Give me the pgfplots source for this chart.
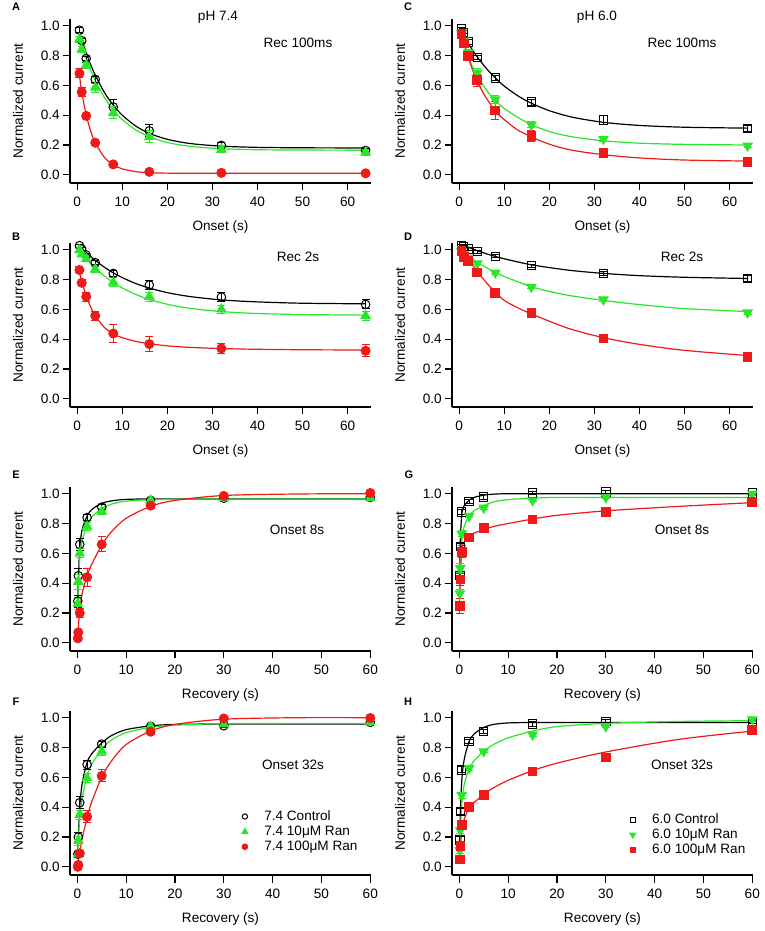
\documentclass[border=0pt]{standalone}
\usepackage{pgfplots}
\usepackage{pgfplotstable}
\pgfplotsset{compat=1.18}
\usepackage{fontspec}
\setmainfont{Liberation Sans}

\definecolor{cgreen}{RGB}{40,230,40}
\definecolor{cred}{RGB}{240,25,25}

% measured points: x, control, 10uM, 100uM (with errors)
\pgfplotstableread{
x c ec g eg r er
0.5 0.97 0.015 0.91 0.02 0.68 0.03
1 0.90 0.015 0.84 0.02 0.555 0.03
2 0.78 0.015 0.735 0.02 0.395 0.015
4 0.64 0.02 0.585 0.03 0.215 0.01
8 0.455 0.05 0.415 0.04 0.07 0.01
16 0.295 0.04 0.255 0.04 0.02 0.005
32 0.197 0.02 0.17 0.02 0.013 0.005
64 0.163 0.01 0.15 0.02 0.01 0.005
}\ptsA
\pgfplotstableread{
x c g r
0.5 0.960 0.920 0.670
1 0.909 0.870 0.555
2 0.818 0.779 0.402
3 0.738 0.701 0.293
4 0.669 0.632 0.215
6 0.554 0.520 0.118
8 0.467 0.435 0.066
10 0.400 0.370 0.040
13 0.327 0.301 0.021
16 0.278 0.255 0.014
20 0.238 0.217 0.011
25 0.210 0.191 0.010
32 0.192 0.175 0.010
40 0.184 0.168 0.010
50 0.181 0.166 0.010
64 0.180 0.165 0.010
}\fitA
\pgfplotstableread{
x c ec g eg r er
0.5 1.027 0.01 0.998 0.015 0.864 0.02
1 1.004 0.01 0.969 0.015 0.778 0.02
2 0.964 0.01 0.937 0.015 0.685 0.03
4 0.913 0.015 0.868 0.02 0.557 0.03
8 0.841 0.02 0.781 0.03 0.438 0.06
16 0.763 0.03 0.685 0.03 0.367 0.05
32 0.682 0.03 0.60 0.025 0.338 0.035
64 0.633 0.03 0.557 0.03 0.322 0.04
}\ptsB
\pgfplotstableread{
x c g r
0.5 1.027 0.995 0.850
1 1.011 0.975 0.790
2 0.981 0.939 0.690
3 0.954 0.906 0.615
4 0.928 0.876 0.557
6 0.883 0.824 0.480
8 0.845 0.780 0.435
10 0.813 0.743 0.410
13 0.773 0.700 0.385
16 0.743 0.666 0.370
20 0.712 0.634 0.355
25 0.686 0.607 0.345
32 0.663 0.585 0.337
40 0.650 0.572 0.332
50 0.641 0.565 0.329
64 0.637 0.561 0.327
}\fitB
\pgfplotstableread{
x c ec g eg r er
0.5 0.98 0.01 0.95 0.015 0.945 0.02
1 0.956 0.01 0.90 0.015 0.88 0.02
2 0.89 0.015 0.82 0.02 0.795 0.02
4 0.785 0.015 0.685 0.025 0.635 0.04
8 0.648 0.015 0.505 0.03 0.43 0.06
16 0.488 0.02 0.335 0.02 0.26 0.04
32 0.367 0.03 0.24 0.02 0.145 0.01
64 0.31 0.02 0.195 0.015 0.085 0.01
}\ptsC
\pgfplotstableread{
x c g r
0.5 0.962 0.930 0.950
1 0.934 0.880 0.890
2 0.882 0.790 0.790
3 0.834 0.720 0.700
4 0.791 0.665 0.625
6 0.714 0.570 0.515
8 0.650 0.500 0.430
10 0.595 0.445 0.370
13 0.530 0.385 0.300
16 0.480 0.337 0.255
20 0.430 0.290 0.205
25 0.387 0.255 0.165
32 0.352 0.228 0.135
40 0.331 0.212 0.113
50 0.319 0.204 0.099
64 0.313 0.200 0.092
}\fitC
\pgfplotstableread{
x c ec g eg r er
0.5 1.027 0.01 0.99 0.01 0.99 0.01
1 1.02 0.01 0.969 0.01 0.953 0.01
2 1.004 0.01 0.946 0.01 0.924 0.01
4 0.987 0.01 0.908 0.01 0.848 0.01
8 0.955 0.01 0.846 0.01 0.711 0.015
16 0.893 0.01 0.75 0.01 0.575 0.02
32 0.841 0.015 0.665 0.01 0.405 0.015
64 0.808 0.02 0.578 0.01 0.282 0.01
}\ptsD
\pgfplotstableread{
x c g r
0.5 1.035 0.985 0.990
1 1.029 0.975 0.975
2 1.017 0.955 0.940
3 1.005 0.935 0.895
4 0.994 0.915 0.855
6 0.973 0.880 0.780
8 0.955 0.848 0.715
10 0.939 0.820 0.660
13 0.918 0.785 0.610
16 0.899 0.752 0.570
20 0.880 0.720 0.520
25 0.860 0.690 0.465
32 0.841 0.660 0.410
40 0.826 0.632 0.365
50 0.815 0.605 0.325
64 0.807 0.585 0.290
}\fitD
\pgfplotstableread{
x c ec g eg r er
0.1 0.28 0.04 0.26 0.04 0.03 0.01
0.2 0.45 0.05 0.41 0.05 0.07 0.01
0.5 0.66 0.04 0.60 0.03 0.20 0.03
2 0.84 0.02 0.78 0.03 0.44 0.06
5 0.91 0.015 0.88 0.02 0.66 0.05
15 0.955 0.01 0.955 0.01 0.92 0.02
30 0.97 0.01 0.97 0.01 0.985 0.01
60 0.975 0.01 0.97 0.01 1.005 0.01
}\ptsE
\pgfplotstableread{
x c g r
0.1 0.30 0.28 0.05
0.2 0.42 0.38 0.10
0.5 0.64 0.56 0.22
1 0.76 0.68 0.33
2 0.85 0.79 0.45
3 0.895 0.845 0.53
5 0.935 0.90 0.655
7 0.952 0.93 0.745
10 0.962 0.95 0.835
15 0.965 0.96 0.915
20 0.965 0.963 0.955
30 0.965 0.965 0.988
45 0.965 0.965 0.998
60 0.965 0.965 1.0
}\fitE
\pgfplotstableread{
x c ec g eg r er
0.1 0.085 0.02 0.085 0.02 0.0 0.01
0.2 0.20 0.03 0.175 0.03 0.013 0.01
0.5 0.43 0.04 0.35 0.03 0.09 0.02
2 0.685 0.03 0.595 0.03 0.336 0.04
5 0.823 0.02 0.774 0.03 0.61 0.04
15 0.942 0.01 0.94 0.01 0.906 0.02
30 0.946 0.01 0.957 0.01 0.995 0.01
60 0.969 0.01 0.969 0.01 0.998 0.01
}\ptsF
\pgfplotstableread{
x c g r
0.1 0.12 0.10 0.02
0.2 0.20 0.17 0.04
0.5 0.40 0.33 0.10
1 0.56 0.46 0.19
2 0.70 0.61 0.33
3 0.76 0.69 0.44
5 0.83 0.79 0.60
7 0.88 0.85 0.71
10 0.92 0.90 0.82
15 0.945 0.935 0.91
20 0.955 0.95 0.955
30 0.958 0.96 0.99
45 0.958 0.962 1.0
60 0.958 0.962 1.0
}\fitF
\pgfplotstableread{
x c ec g eg r er
0.1 0.45 0.03 0.33 0.03 0.245 0.05
0.2 0.646 0.02 0.50 0.03 0.425 0.04
0.5 0.877 0.015 0.73 0.02 0.61 0.04
2 0.948 0.015 0.85 0.01 0.705 0.01
5 0.978 0.015 0.905 0.01 0.77 0.01
15 1.004 0.01 0.955 0.01 0.828 0.01
30 1.011 0.01 0.975 0.01 0.876 0.01
60 1.004 0.01 1.0 0.01 0.945 0.01
}\ptsG
\pgfplotstableread{
x c g r
0.1 0.50 0.35 0.30
0.2 0.68 0.50 0.45
0.5 0.86 0.69 0.62
1 0.92 0.78 0.68
2 0.955 0.85 0.715
3 0.975 0.885 0.735
5 0.99 0.92 0.76
7 0.997 0.945 0.78
10 1.0 0.96 0.80
15 1.0 0.97 0.83
20 1.0 0.975 0.855
30 1.0 0.975 0.885
45 1.0 0.975 0.915
60 1.0 0.975 0.94
}\fitG
\pgfplotstableread{
x c ec g eg r er
0.1 0.18 0.02 0.11 0.02 0.05 0.01
0.2 0.37 0.02 0.246 0.02 0.14 0.02
0.5 0.65 0.02 0.48 0.02 0.28 0.02
2 0.84 0.015 0.662 0.015 0.40 0.015
5 0.908 0.015 0.774 0.01 0.483 0.01
15 0.957 0.015 0.886 0.01 0.64 0.01
30 0.975 0.01 0.942 0.01 0.734 0.01
60 0.97 0.01 0.987 0.01 0.917 0.01
}\ptsH
\pgfplotstableread{
x c g r
0.1 0.22 0.12 0.06
0.2 0.35 0.22 0.12
0.5 0.58 0.42 0.24
1 0.72 0.55 0.32
2 0.84 0.655 0.395
3 0.89 0.71 0.43
5 0.935 0.775 0.485
7 0.955 0.82 0.53
10 0.965 0.865 0.58
15 0.968 0.91 0.645
20 0.968 0.94 0.695
30 0.968 0.962 0.77
45 0.968 0.975 0.855
60 0.968 0.98 0.91
}\fitH

\pgfplotsset{
  panel/.style={scale only axis, width=301pt, height=164pt, anchor=south west,
    axis x line*=bottom, axis y line*=left, clip=false,
    axis line style={line width=1.2pt},
    tick align=outside, major tick length=7.5pt,
    tick style={line width=1.2pt,black},
    ymin=-0.055, ymax=1.045, ytick={0,0.2,0.4,0.6,0.8,1.0},
    xtick={0,10,20,30,40,50,60},
    yticklabel style={/pgf/number format/fixed,/pgf/number format/fixed zerofill,
      /pgf/number format/precision=1, xshift=2pt},
    xticklabel style={yshift=-1.5pt},
    /pgf/number format/assume math mode=true,
    label style={font=\fontsize{13.1}{15.5}\selectfont},
    ylabel={Normalized current},
    every axis y label/.style={at={(axis description cs:-0.173,0.5)},rotate=90,anchor=center},
    every axis x label/.style={at={(axis description cs:0.5,-0.268)},anchor=center},
    legend style={draw=none, fill=none, inner sep=0pt, row sep=-0.5pt,
      /tikz/every odd column/.append style={column sep=14.5pt}},
    legend cell align=left,
  },
  onset/.style={panel, xmin=-1.6, xmax=65.2, xlabel={Onset (s)}},
  recov/.style={panel, xmin=-1.5, xmax=60.15, xlabel={Recovery (s)}},
  fit/.style={smooth, no markers, line width=1.2pt, forget plot},
  pts/.style={only marks, line width=1pt,
    legend image code/.code={\draw[##1, every mark/.append style={scale=0.62}]
      plot coordinates {(0pt,0pt)};},
    error bars/y dir=both, error bars/y explicit,
    error bars/error bar style={line width=1pt},
    error bars/error mark options={line width=1pt, mark size=4pt, rotate=90}},
  ctl74/.style={pts, black, mark=o, mark size=4.3pt},
  ran10a/.style={pts, cgreen, mark=triangle*, mark size=5.3pt},
  ran100a/.style={pts, cred, mark=*, mark size=4.5pt},
  ctl60/.style={pts, black, mark=square, mark size=4.2pt},
  ran10b/.style={pts, cgreen, mark=triangle*, mark size=5.3pt, mark options={rotate=180}},
  ran100b/.style={pts, cred, mark=square*, mark size=4.3pt},
}

\begin{document}
\fontsize{13.6}{16}\selectfont
\begin{tikzpicture}
% ---- A
\begin{axis}[onset, at={(70pt,748pt)}]
\addplot[fit,black] table[x=x,y=c]{\fitA};
\addplot[fit,cgreen] table[x=x,y=g]{\fitA};
\addplot[fit,cred] table[x=x,y=r]{\fitA};
\addplot[ctl74] table[x=x,y=c,y error=ec]{\ptsA};
\addplot[ran10a] table[x=x,y=g,y error=eg]{\ptsA};
\addplot[ran100a] table[x=x,y=r,y error=er]{\ptsA};
\end{axis}
% ---- C
\begin{axis}[onset, at={(452pt,748pt)}]
\addplot[fit,black] table[x=x,y=c]{\fitC};
\addplot[fit,cgreen] table[x=x,y=g]{\fitC};
\addplot[fit,cred] table[x=x,y=r]{\fitC};
\addplot[ctl60] table[x=x,y=c,y error=ec]{\ptsC};
\addplot[ran10b] table[x=x,y=g,y error=eg]{\ptsC};
\addplot[ran100b] table[x=x,y=r,y error=er]{\ptsC};
\end{axis}
% ---- B
\begin{axis}[onset, at={(70pt,524pt)}]
\addplot[fit,black] table[x=x,y=c]{\fitB};
\addplot[fit,cgreen] table[x=x,y=g]{\fitB};
\addplot[fit,cred] table[x=x,y=r]{\fitB};
\addplot[ctl74] table[x=x,y=c,y error=ec]{\ptsB};
\addplot[ran10a] table[x=x,y=g,y error=eg]{\ptsB};
\addplot[ran100a] table[x=x,y=r,y error=er]{\ptsB};
\end{axis}
% ---- D
\begin{axis}[onset, at={(452pt,524pt)}]
\addplot[fit,black] table[x=x,y=c]{\fitD};
\addplot[fit,cgreen] table[x=x,y=g]{\fitD};
\addplot[fit,cred] table[x=x,y=r]{\fitD};
\addplot[ctl60] table[x=x,y=c,y error=ec]{\ptsD};
\addplot[ran10b] table[x=x,y=g,y error=eg]{\ptsD};
\addplot[ran100b] table[x=x,y=r,y error=er]{\ptsD};
\end{axis}
% ---- E
\begin{axis}[recov, at={(70pt,280pt)}]
\addplot[fit,black] table[x=x,y=c]{\fitE};
\addplot[fit,cgreen] table[x=x,y=g]{\fitE};
\addplot[fit,cred] table[x=x,y=r]{\fitE};
\addplot[ctl74] table[x=x,y=c,y error=ec]{\ptsE};
\addplot[ran10a] table[x=x,y=g,y error=eg]{\ptsE};
\addplot[ran100a] table[x=x,y=r,y error=er]{\ptsE};
\end{axis}
% ---- G
\begin{axis}[recov, at={(452pt,280pt)}]
\addplot[fit,black] table[x=x,y=c]{\fitG};
\addplot[fit,cgreen] table[x=x,y=g]{\fitG};
\addplot[fit,cred] table[x=x,y=r]{\fitG};
\addplot[ctl60] table[x=x,y=c,y error=ec]{\ptsG};
\addplot[ran10b] table[x=x,y=g,y error=eg]{\ptsG};
\addplot[ran100b] table[x=x,y=r,y error=er]{\ptsG};
\end{axis}
% ---- F
\begin{axis}[recov, at={(70pt,56pt)},
  legend style={at={(axis cs:33.7,0.392)}, anchor=north west}]
\addplot[fit,black] table[x=x,y=c]{\fitF};
\addplot[fit,cgreen] table[x=x,y=g]{\fitF};
\addplot[fit,cred] table[x=x,y=r]{\fitF};
\addplot[ctl74] table[x=x,y=c,y error=ec]{\ptsF};
\addlegendentry{7.4 Control}
\addplot[ran10a] table[x=x,y=g,y error=eg]{\ptsF};
\addlegendentry{7.4 10μM Ran}
\addplot[ran100a] table[x=x,y=r,y error=er]{\ptsF};
\addlegendentry{7.4 100μM Ran}
\end{axis}
% ---- H
\begin{axis}[recov, at={(452pt,56pt)},
  legend style={at={(axis cs:34.9,0.371)}, anchor=north west}]
\addplot[fit,black] table[x=x,y=c]{\fitH};
\addplot[fit,cgreen] table[x=x,y=g]{\fitH};
\addplot[fit,cred] table[x=x,y=r]{\fitH};
\addplot[ctl60] table[x=x,y=c,y error=ec]{\ptsH};
\addlegendentry{6.0 Control}
\addplot[ran10b] table[x=x,y=g,y error=eg]{\ptsH};
\addlegendentry{6.0 10μM Ran}
\addplot[ran100b] table[x=x,y=r,y error=er]{\ptsH};
\addlegendentry{6.0 100μM Ran}
\end{axis}

% annotations
\node at (218pt,914pt) {pH 7.4};
\node at (597pt,914pt) {pH 6.0};
\node at (298pt,888pt) {Rec 100ms};
\node at (682pt,888pt) {Rec 100ms};
\node at (298pt,674pt) {Rec 2s};
\node at (682pt,674pt) {Rec 2s};
\node at (297pt,401pt) {Onset 8s};
\node at (682pt,401pt) {Onset 8s};
\node at (293pt,166pt) {Onset 32s};
\node at (682pt,166pt) {Onset 32s};
\begin{scope}[every node/.style={font=\bfseries\fontsize{11}{13}\selectfont}]
\node at (16pt,924pt) {A};
\node at (408pt,924pt) {C};
\node at (16pt,694pt) {B};
\node at (408pt,694pt) {D};
\node at (16pt,456pt) {E};
\node at (409pt,456pt) {G};
\node at (16pt,229pt) {F};
\node at (408pt,229pt) {H};
\end{scope}
\pgfresetboundingbox
\path (0,0) rectangle (764pt,931pt);
\end{tikzpicture}
\end{document}
